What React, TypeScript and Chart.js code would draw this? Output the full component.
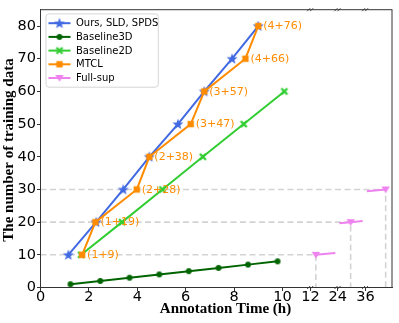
import React, { useEffect, useRef } from 'react';
import { Chart, registerables } from 'chart.js';

Chart.register(...registerables);

// ---------- data ----------
const OURS_HOURS = [1.15, 2.3, 3.42, 4.5, 5.68, 6.77, 7.92, 9.0];
const OURS_COUNTS = [10, 20, 30, 40, 50, 60, 70, 80];

const B3D_HOURS = [1.24, 2.47, 3.68, 4.91, 6.13, 7.36, 8.58, 9.8];
const B3D_COUNTS = [1, 2, 3, 4, 5, 6, 7, 8];

const B2D_HOURS = [1.68, 3.37, 5.04, 6.71, 8.4, 10.08];
const B2D_COUNTS = [10, 20, 30, 40, 50, 60];

const MTCL_HOURS = [1.72, 2.27, 3.98, 4.5, 6.21, 6.77, 8.47, 9.0];
const MTCL_COUNTS = [10, 20, 30, 40, 50, 60, 70, 80];
const MTCL_LABELS = ['(1+9)', '(1+19)', '(2+28)', '(2+38)', '(3+47)', '(3+57)', '(4+66)', '(4+76)'];

const FULL_HOURS = [12.25, 24.5, 36.75];
const FULL_COUNTS = [10, 20, 30];

const MAIN_TICKS = [0, 2, 4, 6, 8, 10];
const BREAK_TICKS = [12, 24, 36];
const Y_TICKS = [0, 10, 20, 30, 40, 50, 60, 70, 80];

const SERIES_NAMES = ['Ours, SLD, SPDS', 'Baseline3D', 'Baseline2D', 'MTCL', 'Full-sup'];
const X_TITLE = 'Annotation Time (h)';
const Y_TITLE = 'The number of training data';

// ---------- styles / broken-axis layout ----------
const BLUE = '#4169E1';
const DGREEN = '#006400';
const LGREEN = '#32CD32';
const ORANGE = '#FF8C00';
const VIOLET = '#EE82EE';
const GRAY = '#d3d3d3';

const X_MAX = 14.53;
const BREAK_START = [11.16, 12.29, 13.43]; // axis units where each broken panel begins
const PANEL_OFF = 0.062;
const PANEL_SPAN = 0.965;
const UNITS_PER_HOUR = 1.232;
const PANEL_LO = 0.12; // hours after panel base where panel data area starts

function panelIndex(h: number) {
  let k = -1;
  BREAK_TICKS.forEach((b, i) => {
    if (h >= b - 1) k = i;
  });
  return k;
}

function hourToAxis(h: number, k?: number) {
  const idx = k === undefined ? panelIndex(h) : k;
  if (idx < 0) return h;
  return BREAK_START[idx] + PANEL_OFF + (h - BREAK_TICKS[idx] - PANEL_LO) * UNITS_PER_HOUR;
}

function pts(hours: number[], counts: number[]) {
  return hours.map((h, i) => ({ x: hourToAxis(h), y: counts[i] }));
}

function fullSupSegments() {
  const out: { x: number; y: number | null }[] = [];
  BREAK_TICKS.forEach((b, k) => {
    const lo = b + PANEL_LO;
    const hi = lo + PANEL_SPAN / UNITS_PER_HOUR;
    let any = false;
    for (let i = 0; i < FULL_HOURS.length - 1; i++) {
      const h0 = FULL_HOURS[i], h1 = FULL_HOURS[i + 1];
      const v0 = FULL_COUNTS[i], v1 = FULL_COUNTS[i + 1];
      const s = Math.max(lo, h0), e = Math.min(hi, h1);
      if (s < e) {
        const vs = v0 + ((s - h0) / (h1 - h0)) * (v1 - v0);
        const ve = v0 + ((e - h0) / (h1 - h0)) * (v1 - v0);
        out.push({ x: hourToAxis(s, k), y: vs });
        out.push({ x: hourToAxis(e, k), y: ve });
        any = true;
      }
    }
    if (any) out.push({ x: hourToAxis(hi, k), y: null });
  });
  return out;
}

function guideLines() {
  const out: { x: number; y: number | null }[] = [];
  FULL_HOURS.forEach((h, i) => {
    const u = hourToAxis(h);
    out.push({ x: 0, y: FULL_COUNTS[i] });
    out.push({ x: u, y: FULL_COUNTS[i] });
    out.push({ x: u, y: 0 });
    out.push({ x: u, y: null });
  });
  return out;
}

// ---------- marker images ----------
function makeMarker(kind: string, color: string): HTMLCanvasElement {
  const s = 14;
  const c = document.createElement('canvas');
  c.width = s;
  c.height = s;
  const g = c.getContext('2d') as CanvasRenderingContext2D;
  const m = s / 2;
  g.fillStyle = color;
  g.strokeStyle = color;
  if (kind === 'star') {
    const R = 5.8, r = 2.4;
    g.beginPath();
    for (let i = 0; i < 10; i++) {
      const ang = -Math.PI / 2 + (i * Math.PI) / 5;
      const rad = i % 2 === 0 ? R : r;
      const px = m + rad * Math.cos(ang), py = m + 0.4 + rad * Math.sin(ang);
      if (i === 0) g.moveTo(px, py);
      else g.lineTo(px, py);
    }
    g.closePath();
    g.fill();
  } else if (kind === 'circle') {
    g.beginPath();
    g.arc(m, m, 2.9, 0, Math.PI * 2);
    g.fill();
  } else if (kind === 'x') {
    g.lineWidth = 2.4;
    g.beginPath();
    g.moveTo(m - 3, m - 3);
    g.lineTo(m + 3, m + 3);
    g.moveTo(m + 3, m - 3);
    g.lineTo(m - 3, m + 3);
    g.stroke();
  } else if (kind === 'square') {
    g.fillRect(m - 3.2, m - 3.2, 6.4, 6.4);
  } else if (kind === 'tri') {
    g.beginPath();
    g.moveTo(m - 4.2, m - 3);
    g.lineTo(m + 4.2, m - 3);
    g.lineTo(m, m + 3.8);
    g.closePath();
    g.fill();
  }
  return c;
}

export default function App() {
  const ref = useRef<HTMLCanvasElement | null>(null);

  useEffect(() => {
    if (!ref.current) return;
    const mk = {
      star: makeMarker('star', BLUE),
      circle: makeMarker('circle', DGREEN),
      x: makeMarker('x', LGREEN),
      square: makeMarker('square', ORANGE),
      tri: makeMarker('tri', VIOLET),
    };
    const legendItems = [
      { label: SERIES_NAMES[0], color: BLUE, marker: mk.star },
      { label: SERIES_NAMES[1], color: DGREEN, marker: mk.circle },
      { label: SERIES_NAMES[2], color: LGREEN, marker: mk.x },
      { label: SERIES_NAMES[3], color: ORANGE, marker: mk.square },
      { label: SERIES_NAMES[4], color: VIOLET, marker: mk.tri },
    ];

    const decor = {
      id: 'decor',
      afterDatasetsDraw(chart: any) {
        const { ctx, chartArea: a, scales } = chart;
        const xs = scales.x;
        ctx.save();
        // MTCL annotations
        const meta = chart.getDatasetMeta(3);
        ctx.font = '11px "DejaVu Sans"';
        ctx.fillStyle = ORANGE;
        ctx.textAlign = 'left';
        ctx.textBaseline = 'middle';
        meta.data.forEach((p: any, i: number) => {
          ctx.fillText(MTCL_LABELS[i], p.x + 5, p.y + 0.5);
        });

        // frame
        ctx.strokeStyle = '#333';
        ctx.lineWidth = 1;
        ctx.strokeRect(a.left, a.top, a.right - a.left, a.bottom - a.top);

        // break marks
        ctx.lineWidth = 0.9;
        BREAK_START.forEach((u) => {
          const px = xs.getPixelForValue(u);
          [a.top, a.bottom].forEach((ey: number) => {
            [-1.8, 1.2].forEach((d) => {
              ctx.beginPath();
              ctx.moveTo(px + d - 1.5, ey + 1.5);
              ctx.lineTo(px + d + 1.5, ey - 1.5);
              ctx.stroke();
            });
          });
        });

        // legend
        const lx = a.left + 5.5, ly = a.top + 4.2, lw = 112.3, lh = 73.3;
        ctx.beginPath();
        const rr = 3;
        ctx.moveTo(lx + rr, ly);
        ctx.arcTo(lx + lw, ly, lx + lw, ly + lh, rr);
        ctx.arcTo(lx + lw, ly + lh, lx, ly + lh, rr);
        ctx.arcTo(lx, ly + lh, lx, ly, rr);
        ctx.arcTo(lx, ly, lx + lw, ly, rr);
        ctx.closePath();
        ctx.fillStyle = 'rgba(255,255,255,0.85)';
        ctx.fill();
        ctx.strokeStyle = '#d6d6d6';
        ctx.lineWidth = 1;
        ctx.stroke();
        ctx.font = '10px "DejaVu Sans"';
        ctx.textBaseline = 'middle';
        ctx.textAlign = 'left';
        legendItems.forEach((it, i) => {
          const cy = ly + 9.3 + i * 13.7;
          ctx.strokeStyle = it.color;
          ctx.lineWidth = 2;
          ctx.beginPath();
          ctx.moveTo(lx + 2.5, cy);
          ctx.lineTo(lx + 24.5, cy);
          ctx.stroke();
          ctx.drawImage(it.marker, lx + 13.5 - it.marker.width / 2, cy - it.marker.height / 2);
          ctx.fillStyle = '#000';
          ctx.fillText(it.label, lx + 30, cy + 0.5);
        });

        // axis titles
        ctx.fillStyle = '#000';
        ctx.font = 'bold 15px "Liberation Serif"';
        ctx.textAlign = 'center';
        ctx.textBaseline = 'middle';
        ctx.fillText(X_TITLE, 225.5, 309);
        ctx.translate(9.5, 150);
        ctx.rotate(-Math.PI / 2);
        ctx.fillText(Y_TITLE, 0, 0);
        ctx.restore();
      },
    };

    const xTickPos = [...MAIN_TICKS, ...BREAK_START];
    const xTickLabels = [...MAIN_TICKS, ...BREAK_TICKS].map(String);

    const chart = new Chart(ref.current, {
      type: 'line',
      data: {
        datasets: [
          {
            label: SERIES_NAMES[0],
            data: pts(OURS_HOURS, OURS_COUNTS),
            borderColor: BLUE,
            borderWidth: 2,
            pointStyle: mk.star as any,
            pointRadius: 5,
            order: 5,
          },
          {
            label: SERIES_NAMES[1],
            data: pts(B3D_HOURS, B3D_COUNTS),
            borderColor: DGREEN,
            borderWidth: 2,
            pointStyle: mk.circle as any,
            pointRadius: 4,
            order: 4,
          },
          {
            label: SERIES_NAMES[2],
            data: pts(B2D_HOURS, B2D_COUNTS),
            borderColor: LGREEN,
            borderWidth: 2,
            pointStyle: mk.x as any,
            pointRadius: 4,
            order: 3,
          },
          {
            label: SERIES_NAMES[3],
            data: pts(MTCL_HOURS, MTCL_COUNTS),
            borderColor: ORANGE,
            borderWidth: 2,
            pointStyle: mk.square as any,
            pointRadius: 4,
            order: 2,
          },
          {
            label: SERIES_NAMES[4],
            data: pts(FULL_HOURS, FULL_COUNTS),
            borderColor: VIOLET,
            showLine: false,
            pointStyle: mk.tri as any,
            pointRadius: 4,
            order: 1,
          },
          {
            label: 'full-sup-line',
            data: fullSupSegments() as any,
            borderColor: VIOLET,
            borderWidth: 2,
            pointRadius: 0,
            order: 1,
          },
          {
            label: 'guides',
            data: guideLines() as any,
            borderColor: GRAY,
            borderWidth: 1.6,
            borderDash: [6, 3.5],
            pointRadius: 0,
            order: 10,
          },
        ],
      },
      options: {
        animation: false,
        responsive: false,
        devicePixelRatio: 1,
        layout: { padding: { left: 0, right: 4.5, top: 5.5, bottom: 0 } },
        plugins: { legend: { display: false }, tooltip: { enabled: false } },
        elements: { line: { tension: 0 } },
        scales: {
          x: {
            type: 'linear',
            min: 0,
            max: X_MAX,
            afterBuildTicks: (s: any) => {
              s.ticks = xTickPos.map((v) => ({ value: v }));
            },
            afterFit: (s: any) => {
              s.height = 35.5;
            },
            ticks: {
              autoSkip: false,
              maxRotation: 0,
              padding: -2.5,
              color: '#000',
              font: { family: '"DejaVu Sans"', size: 14.5 },
              callback: (_v: any, i: number) => xTickLabels[i],
            },
            grid: { drawOnChartArea: false, drawTicks: true, tickLength: 3.5, color: '#333' },
            border: { display: true, color: '#333' },
          },
          y: {
            type: 'linear',
            min: 0,
            max: 85,
            afterBuildTicks: (s: any) => {
              s.ticks = Y_TICKS.map((v) => ({ value: v }));
            },
            afterFit: (s: any) => {
              s.width = 40.5;
            },
            ticks: {
              autoSkip: false,
              padding: 1,
              color: '#000',
              font: { family: '"DejaVu Sans"', size: 14.5 },
              callback: (v: any) => String(v),
            },
            grid: { drawOnChartArea: false, drawTicks: true, tickLength: 3.5, color: '#333' },
            border: { display: true, color: '#333' },
          },
        },
      },
      plugins: [decor],
    } as any);

    return () => chart.destroy();
  }, []);

  return (
    <div style={{ position: 'absolute', left: 0, top: 0, width: 399, height: 323, background: '#fff' }}>
      <canvas ref={ref} width={399} height={323} style={{ display: 'block' }} />
    </div>
  );
}
